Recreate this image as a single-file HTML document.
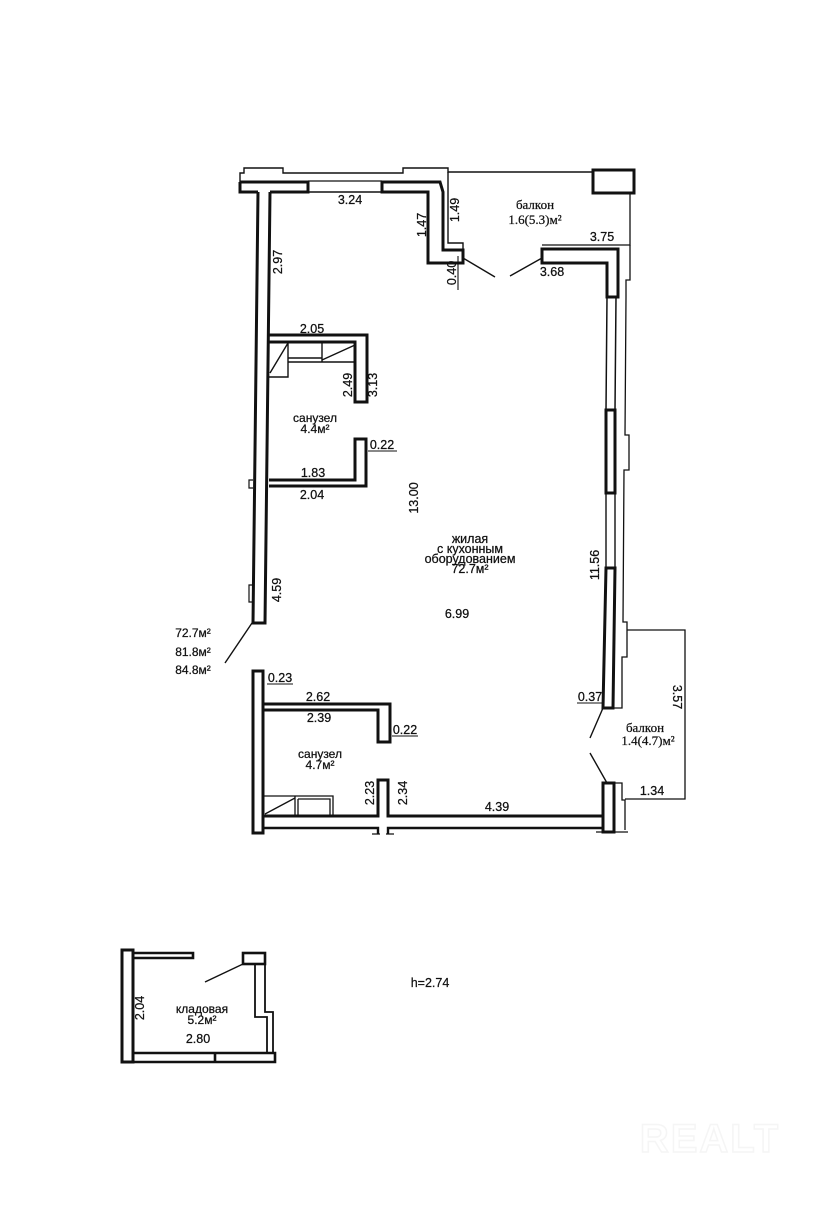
<!DOCTYPE html>
<html>
<head>
<meta charset="utf-8">
<style>
  html,body{margin:0;padding:0;background:#fff;}
  svg{display:block;}
  text{font-family:"Liberation Sans","DejaVu Sans",sans-serif;fill:#111;stroke:#111;stroke-width:0.25;}
  .d{font-size:12.5px;}
  .s{font-size:12px;}
  .r{font-family:"Liberation Serif","DejaVu Serif",serif;font-size:13px;}
</style>
</head>
<body>
<svg width="834" height="1206" viewBox="0 0 834 1206" xmlns="http://www.w3.org/2000/svg">
<rect width="834" height="1206" fill="#fff"/>
<g fill="none" stroke="#111" stroke-linejoin="miter">
  <path d="M240,182 L240,173 L244,173 L244,168 L283,168 L283,173 L403,173 L403,168 L448,168 L448,172 L593,172" stroke-width="1.4"/>
  <path d="M308,181 L382,181" stroke-width="1.2"/>
  <path d="M308,192 L382,192" stroke-width="1.6"/>
  <path d="M240,182 L308,182 L308,192 L270,192" stroke-width="3"/>
  <path d="M258,192 L240,192 L240,182" stroke-width="3"/>
  <path d="M258,192 L253,623 L265,623 L270,192" stroke-width="3"/>
  <path d="M253,480 L249,480 L249,488 L253,488" stroke-width="1.2"/>
  <path d="M253,585 L249,585 L249,602 L253,602" stroke-width="1.2"/>
  <path d="M382,182 L440,182 L443,192 L443,250 L463,250 L463,263 L428,263 L428,192 L382,192 Z" stroke-width="3"/>
  <path d="M448,172 L448,243 L463,243 L463,250" stroke-width="1.4"/>
  <rect x="593" y="170" width="41" height="23" stroke-width="3"/>
  <path d="M630,193 L630,245 L542,245" stroke-width="1.3"/>
  <path d="M542,249 L618,249 L618,297 L607,297 L607,263 L542,263 Z" stroke-width="3"/>
  <path d="M630,245 L630,280 L626,280 L626,297" stroke-width="1.3"/>
  <path d="M463,258 L495,277 M542,258 L510,276" stroke-width="1.4"/>
  <path d="M607,297 L606,410 M616,297 L615,410" stroke-width="1.5"/>
  <rect x="606" y="410" width="9" height="83" stroke-width="3"/>
  <path d="M606,493 L606,568 M615,493 L615,568" stroke-width="1.4"/>
  <path d="M606,568 L603,708 L613,708 L615,568 Z" stroke-width="3"/>
  <path d="M626,297 L625,435 L629,435 L629,470 L624,470 L623,622 L627,622 L627,657 L622,657 L622,708 L613,708" stroke-width="1.3"/>
  <path d="M627,630 L685,630 L685,799 L625,799" stroke-width="1.3"/>
  <path d="M603,708 L590,738 M590,753 L607,783" stroke-width="1.4"/>
  <path d="M603,783 L614,783 L614,832 L603,832 Z" stroke-width="3"/>
  <path d="M614,783 L622,783 L622,800 L625,800 L625,830 M596,832 L628,832" stroke-width="1.3"/>
  <path d="M269,335 L367,335 L367,402 L355,402 L355,342 L269,342" stroke-width="3"/>
  <path d="M269,342 L288,342 L288,377 L269,377 M288,343 L270,373 M288,358 L322,358 M288,362 L322,362 M322,342 L322,362 L355,362 M355,345 L322,360" stroke-width="1.4"/>
  <path d="M269,480 L355,480 L355,439 L366,439 L366,486 L269,486" stroke-width="3"/>
  <path d="M252,623 L225,663" stroke-width="1.4"/>
  <path d="M253,671 L263,671 L263,833 L253,833 Z" stroke-width="3"/>
  <path d="M263,704 L390,704 L390,742 L378,742 L378,710 L263,710" stroke-width="3"/>
  <path d="M263,816 L378,816 L378,780 L388,780 L388,816 L603,816" stroke-width="3"/>
  <path d="M263,828 L378,828 L378,834 M388,834 L388,828 L603,828" stroke-width="2.4"/>
  <path d="M372,834 L380,834 M386,834 L394,834" stroke-width="1.2"/>
  <path d="M263,796 L295,796 L295,816 M295,798 L265,814 M295,796 L333,796 L333,816 M298,799 L330,799 L330,816 M298,799 L298,816" stroke-width="1.3"/>
  <rect x="122" y="950" width="11" height="112" stroke-width="3"/>
  <path d="M133,953 L193,953 L193,958 L133,958" stroke-width="2.6"/>
  <rect x="243" y="953" width="22" height="11" stroke-width="2.6"/>
  <path d="M265,964 L265,1012 L273,1012 L273,1053 M255,964 L255,1017 L267,1017 L267,1053" stroke-width="1.8"/>
  <path d="M133,1053 L275,1053 L275,1062 L133,1062" stroke-width="2.6"/>
  <path d="M215,1053 L215,1062" stroke-width="2.6"/>
  <path d="M243,964 L205,982" stroke-width="1.4"/>
  <path d="M458,256 L458,290" stroke-width="1.1"/>
  <path d="M368,451 L397,451" stroke-width="1.1"/>
  <path d="M267,684 L293,684" stroke-width="1.1"/>
  <path d="M392,736 L418,736" stroke-width="1.1"/>
  <path d="M577,703 L603,703" stroke-width="1.1"/>
</g>

<g text-anchor="middle">
  <text class="d" x="350" y="204">3.24</text>
  <text class="d" transform="translate(278,262) rotate(-90)" y="4">2.97</text>
  <text class="d" transform="translate(422,225) rotate(-90)" y="4">1.47</text>
  <text class="d" transform="translate(455,210) rotate(-90)" y="4">1.49</text>
  <text class="d" transform="translate(452,273) rotate(-90)" y="4">0.40</text>
  <text class="r" x="535" y="209">балкон</text>
  <text class="r" x="535" y="224">1.6(5.3)м²</text>
  <text class="d" x="602" y="241">3.75</text>
  <text class="d" x="552" y="276">3.68</text>

  <text class="d" x="312" y="333">2.05</text>
  <text class="d" transform="translate(348,385) rotate(-90)" y="4">2.49</text>
  <text class="d" transform="translate(373,385) rotate(-90)" y="4">3.13</text>
  <text class="s" x="315" y="422">санузел</text>
  <text class="s" x="315" y="433">4.4м²</text>
  <text class="d" x="382" y="449">0.22</text>
  <text class="d" x="313" y="477">1.83</text>
  <text class="d" x="312" y="499">2.04</text>
  <text class="d" transform="translate(414,498) rotate(-90)" y="4">13.00</text>

  <text class="s" x="470" y="543" style="font-size:12.5px">жилая</text>
  <text class="s" x="470" y="553" style="font-size:12.5px">с кухонным</text>
  <text class="s" x="470" y="563" style="font-size:12.5px">оборудованием</text>
  <text class="s" x="470" y="573" style="font-size:12.5px">72.7м²</text>
  <text class="d" x="457" y="618">6.99</text>
  <text class="d" transform="translate(595,565) rotate(-90)" y="4">11.56</text>
  <text class="d" transform="translate(277,590) rotate(-90)" y="4">4.59</text>

  <text class="s" x="193" y="637">72.7м²</text>
  <text class="s" x="193" y="656">81.8м²</text>
  <text class="s" x="193" y="674">84.8м²</text>

  <text class="d" x="280" y="682">0.23</text>
  <text class="d" x="318" y="701">2.62</text>
  <text class="d" x="319" y="722">2.39</text>
  <text class="d" x="405" y="734">0.22</text>
  <text class="s" x="320" y="758">санузел</text>
  <text class="s" x="320" y="769">4.7м²</text>
  <text class="d" transform="translate(370,793) rotate(-90)" y="4">2.23</text>
  <text class="d" transform="translate(403,793) rotate(-90)" y="4">2.34</text>
  <text class="d" x="497" y="811">4.39</text>

  <text class="d" x="590" y="701">0.37</text>
  <text class="r" x="645" y="732">балкон</text>
  <text class="r" x="648" y="745">1.4(4.7)м²</text>
  <text class="d" transform="translate(677,697) rotate(90)" y="4">3.57</text>
  <text class="d" x="652" y="795">1.34</text>

  <text class="s" x="202" y="1013">кладовая</text>
  <text class="s" x="202" y="1024">5.2м²</text>
  <text class="d" transform="translate(140,1008) rotate(-90)" y="4">2.04</text>
  <text class="d" x="198" y="1043">2.80</text>
  <text class="d" x="430" y="987">h=2.74</text>
</g>
<text x="710" y="1152" text-anchor="middle" style="font-family:'Liberation Sans',sans-serif;font-size:40px;font-weight:bold;fill:none;stroke:#f5f5f5;stroke-width:1.5;letter-spacing:2px">REALT</text>
</svg>
</body>
</html>
